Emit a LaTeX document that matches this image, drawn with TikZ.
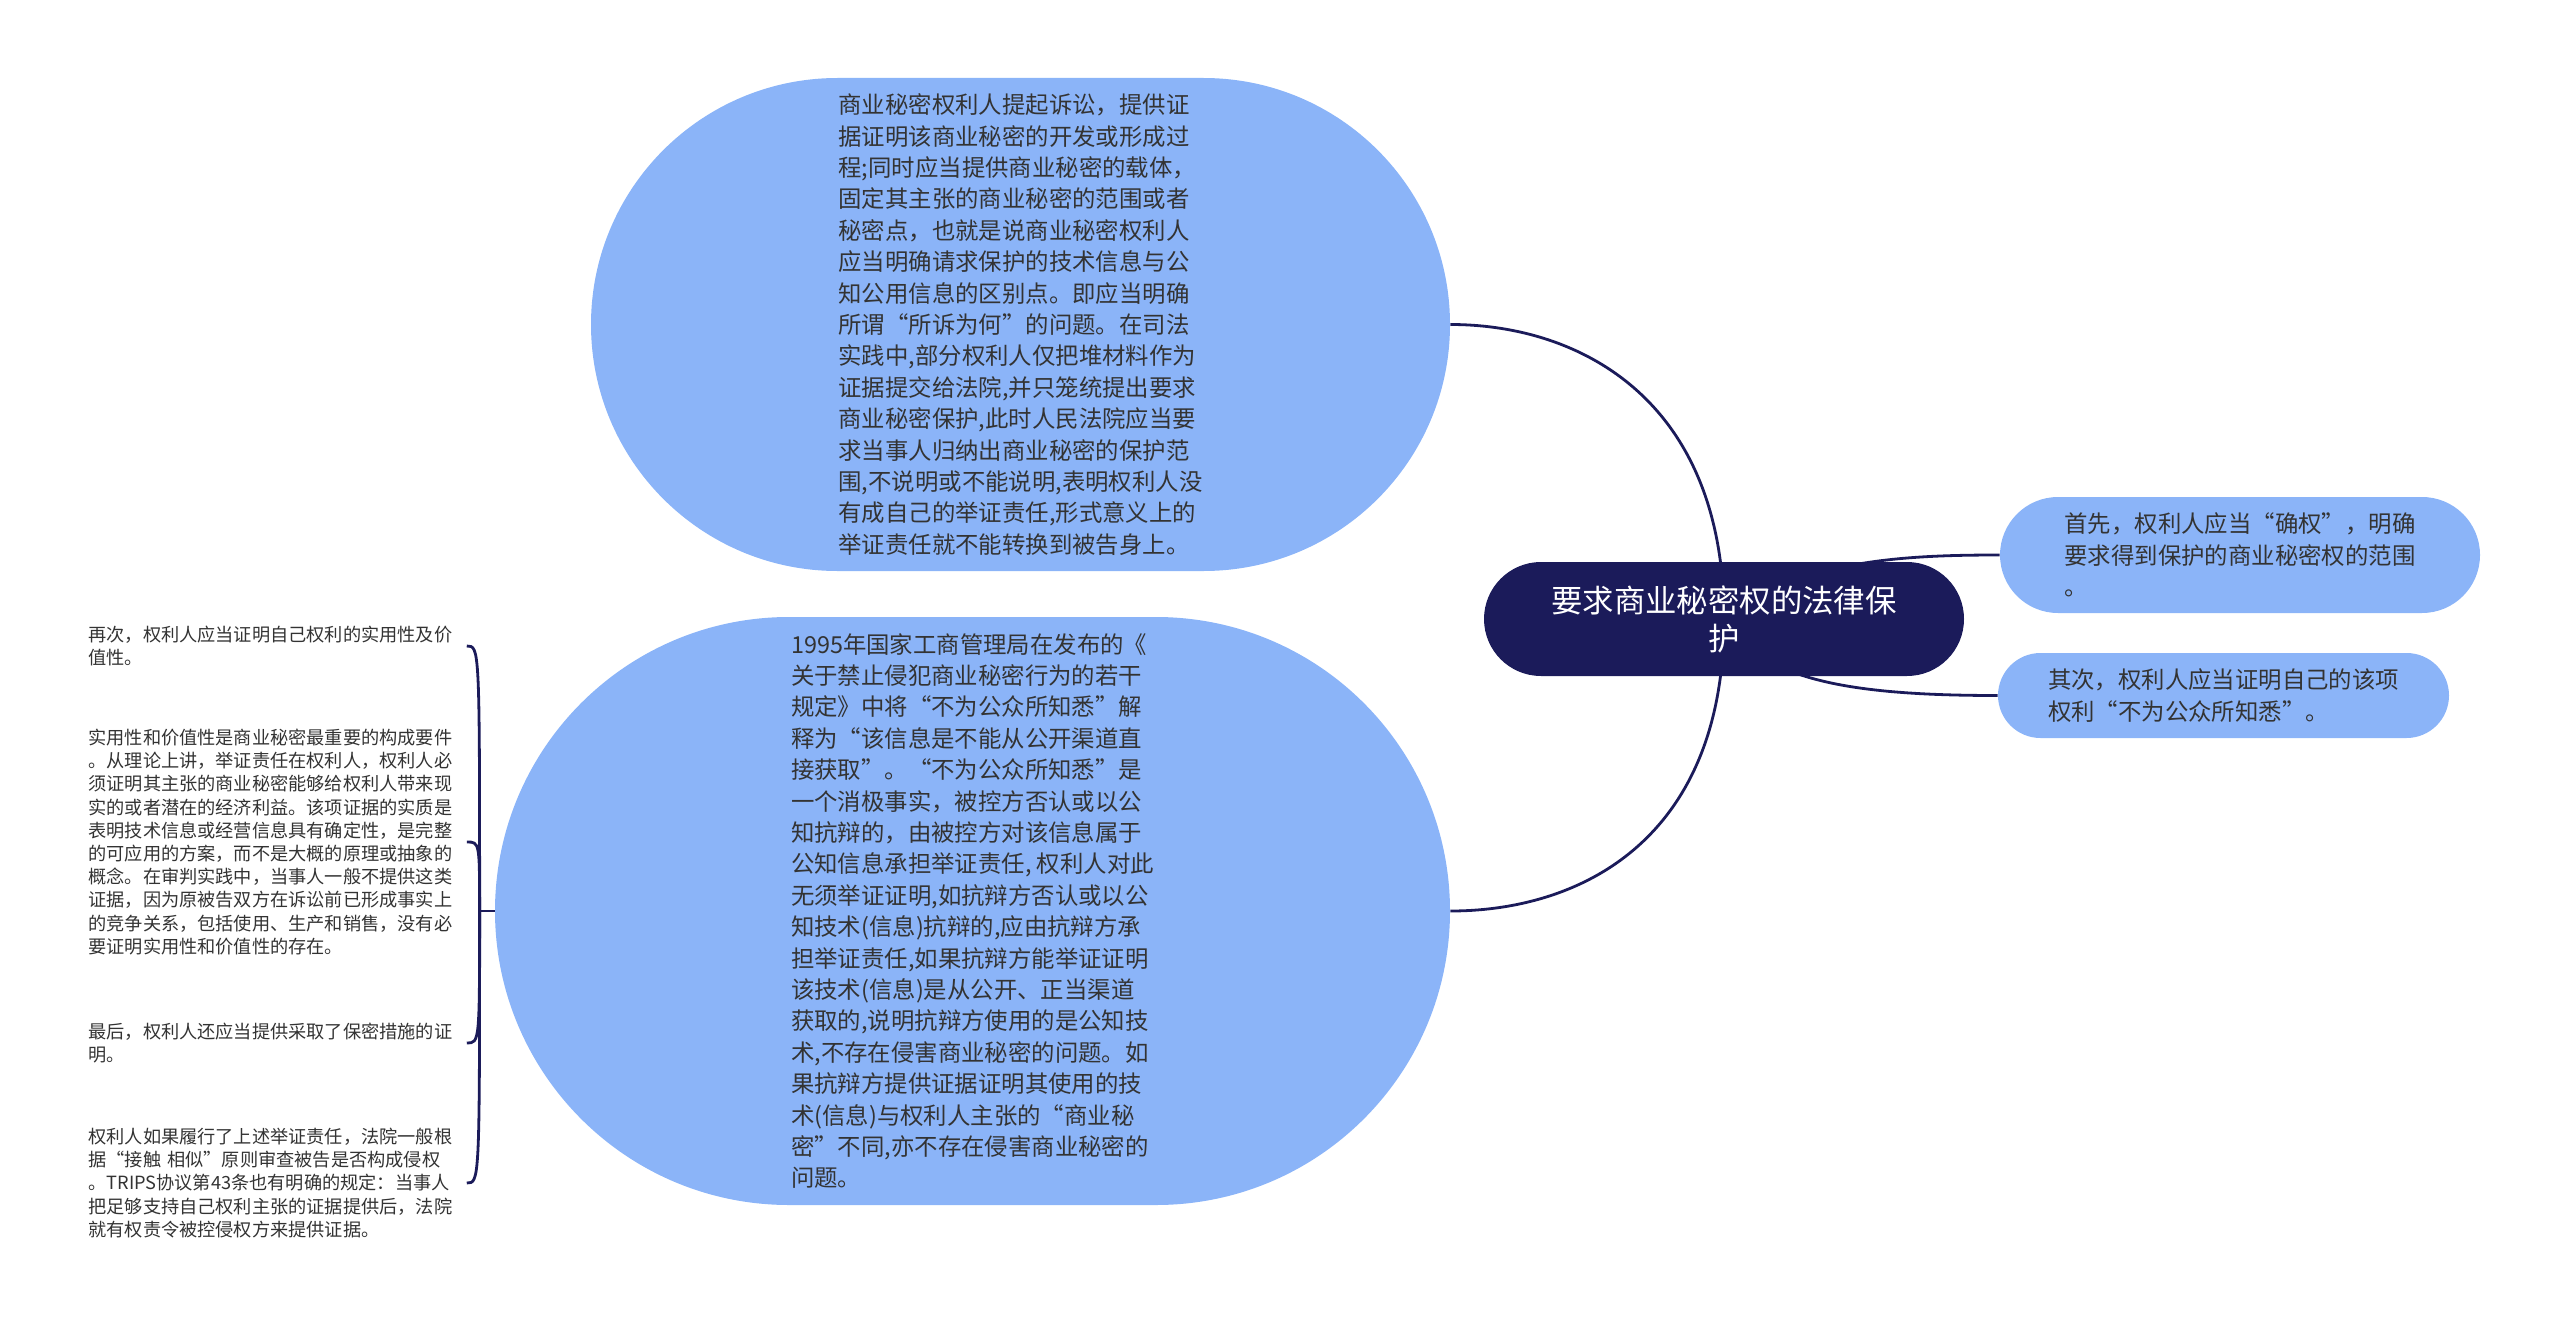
\documentclass[tikz,border=0pt]{standalone}
\usepackage{fontspec}
\setmainfont{Noto Sans CJK SC}
\usetikzlibrary{shapes.misc,backgrounds}
\definecolor{rootnavy}{RGB}{27,27,90}
\definecolor{leafblue}{RGB}{139,180,248}
\definecolor{leaftext}{RGB}{51,51,51}

\begin{document}
\begin{tikzpicture}[x=0.5pt,y=-0.5pt,
  link/.style={draw=rootnavy,line width=1.4pt},
  bubble/.style={rounded rectangle,fill=leafblue,text=leaftext,inner sep=0pt,align=left,font=\fontsize{11.7pt}{15.7pt}\selectfont},
  note/.style={anchor=west,inner xsep=3pt,inner ysep=0pt,text width=186pt,align=left,text=leaftext,font=\fontsize{9.1pt}{11.6pt}\selectfont}]
  \useasboundingbox (0,0) rectangle (2560,1327);
  \node[rounded rectangle,fill=rootnavy,text=white,minimum width=240pt,minimum height=57pt,inner sep=0pt,align=center,font=\fontsize{15.7pt}{19pt}\selectfont] (root) at (1724,619) {要求商业秘密权的法律保\\护};
  \node[bubble,minimum width=429.5pt,minimum height=246.5pt] (top) at (1020.5,324.5) {商业秘密权利人提起诉讼，提供证\\据证明该商业秘密的开发或形成过\\程;同时应当提供商业秘密的载体，\\固定其主张的商业秘密的范围或者\\秘密点，也就是说商业秘密权利人\\应当明确请求保护的技术信息与公\\知公用信息的区别点。即应当明确\\所谓“所诉为何”的问题。在司法\\实践中,部分权利人仅把堆材料作为\\证据提交给法院,并只笼统提出要求\\商业秘密保护,此时人民法院应当要\\求当事人归纳出商业秘密的保护范\\围,不说明或不能说明,表明权利人没\\有成自己的举证责任,形式意义上的\\举证责任就不能转换到被告身上。};
  \node[bubble,minimum width=477.5pt,minimum height=294pt] (bot) at (972.5,911) {1995年国家工商管理局在发布的《\\关于禁止侵犯商业秘密行为的若干\\规定》中将“不为公众所知悉”解\\释为“该信息是不能从公开渠道直\\接获取”。“不为公众所知悉”是\\一个消极事实，被控方否认或以公\\知抗辩的，由被控方对该信息属于\\公知信息承担举证责任, 权利人对此\\无须举证证明,如抗辩方否认或以公\\知技术(信息)抗辩的,应由抗辩方承\\担举证责任,如果抗辩方能举证证明\\该技术(信息)是从公开、正当渠道\\获取的,说明抗辩方使用的是公知技\\术,不存在侵害商业秘密的问题。如\\果抗辩方提供证据证明其使用的技\\术(信息)与权利人主张的“商业秘\\密”不同,亦不存在侵害商业秘密的\\问题。};
  \node[bubble,minimum width=240pt,minimum height=58pt] (r1) at (2240,555) {首先，权利人应当“确权”，明确\\要求得到保护的商业秘密权的范围\\。};
  \node[bubble,minimum width=225.5pt,minimum height=42.5pt] (r2) at (2223.5,695.5) {其次，权利人应当证明自己的该项\\权利“不为公众所知悉”。};
  \node[note] (i1) at (82,646) {再次，权利人应当证明自己权利的实用性及价\\值性。};
  \node[note] (i2) at (82,842) {实用性和价值性是商业秘密最重要的构成要件\\。从理论上讲，举证责任在权利人，权利人必\\须证明其主张的商业秘密能够给权利人带来现\\实的或者潜在的经济利益。该项证据的实质是\\表明技术信息或经营信息具有确定性，是完整\\的可应用的方案，而不是大概的原理或抽象的\\概念。在审判实践中，当事人一般不提供这类\\证据，因为原被告双方在诉讼前已形成事实上\\的竞争关系，包括使用、生产和销售，没有必\\要证明实用性和价值性的存在。};
  \node[note] (i3) at (82,1043) {最后，权利人还应当提供采取了保密措施的证\\明。};
  \node[note] (i4) at (82,1183) {权利人如果履行了上述举证责任，法院一般根\\据“接触 相似”原则审查被告是否构成侵权\\。TRIPS协议第43条也有明确的规定：当事人\\把足够支持自己权利主张的证据提供后，法院\\就有权责令被控侵权方来提供证据。};
  \coordinate (jn) at ([xshift=-7.5pt]bot.west);
  \begin{scope}[on background layer]
    \draw[link] (root.center) .. controls +(0,-219) and +(130,0) .. (top.east);
    \draw[link] (root.center) .. controls +(0,221) and +(130,0) .. (bot.east);
    \draw[link] (root.center) .. controls +(76,-59) and +(-98,0) .. (r1.west);
    \draw[link] (root.center) .. controls +(36,61) and +(-148,0) .. (r2.west);
    \draw[link] (bot.west) -- (jn);
    \foreach \i in {i1,i2,i3,i4} \draw[link] (jn) .. controls (jn |- \i.east) .. (\i.east);
  \end{scope}
\end{tikzpicture}
\end{document}
